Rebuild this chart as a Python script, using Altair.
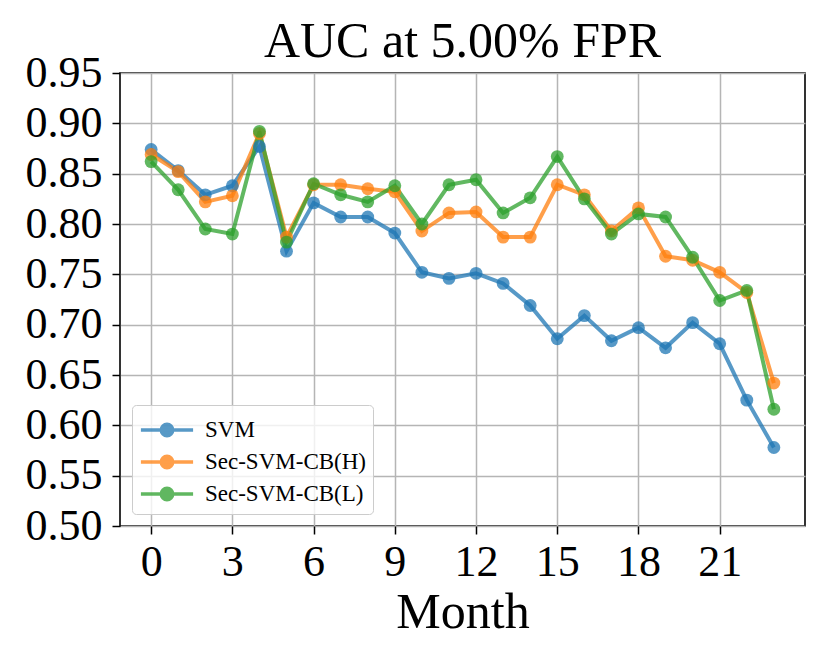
import altair as alt
import pandas as pd

months = list(range(24))
series_names = ["SVM", "Sec-SVM-CB(H)", "Sec-SVM-CB(L)"]
svm = [0.874, 0.853, 0.829, 0.838, 0.877, 0.773, 0.821, 0.807, 0.807, 0.791, 0.752, 0.746,
       0.751, 0.741, 0.719, 0.686, 0.709, 0.684, 0.697, 0.677, 0.702, 0.681, 0.625, 0.578]
sec_h = [0.869, 0.852, 0.822, 0.828, 0.890, 0.787, 0.839, 0.839, 0.835, 0.832, 0.793, 0.811,
         0.812, 0.787, 0.787, 0.839, 0.829, 0.793, 0.816, 0.768, 0.764, 0.752, 0.732, 0.642]
sec_l = [0.862, 0.834, 0.795, 0.790, 0.892, 0.782, 0.840, 0.829, 0.822, 0.838, 0.800, 0.839,
         0.844, 0.811, 0.826, 0.867, 0.825, 0.790, 0.810, 0.807, 0.767, 0.724, 0.734, 0.616]
x_ticks = [0, 3, 6, 9, 12, 15, 18, 21]
y_ticks = [0.50, 0.55, 0.60, 0.65, 0.70, 0.75, 0.80, 0.85, 0.90, 0.95]
colors = ["#1f77b4", "#ff7f0e", "#2ca02c"]

rows = []
for name, vals in zip(series_names, [svm, sec_h, sec_l]):
    for m, v in zip(months, vals):
        rows.append({"Month": m, "AUC": v, "Series": name})
df = pd.DataFrame(rows)

FONT = "Liberation Serif"
legend_symbol = "M-1.65,0L1.65,0M-0.36,0A0.36,0.36,0,1,1,0.36,0A0.36,0.36,0,1,1,-0.36,0Z"

x = alt.X("Month:Q",
          scale=alt.Scale(domain=[-1.15, 24.15], nice=False, zero=False),
          axis=alt.Axis(values=x_ticks, title="Month", format="d"))
y = alt.Y("AUC:Q",
          scale=alt.Scale(domain=[0.5, 0.95], nice=False, zero=False),
          axis=alt.Axis(values=y_ticks, format=".2f", title=None))
color_scale = alt.Scale(domain=series_names, range=colors)
color = alt.Color("Series:N", scale=color_scale,
                  legend=alt.Legend(
                      title=None, orient="bottom-left", offset=12,
                      symbolType=legend_symbol, symbolSize=1000,
                      symbolStrokeWidth=3.5, symbolOpacity=0.75,
                      symbolOffset=10,
                      labelFont=FONT, labelFontSize=23, labelColor="black",
                      labelLimit=400,
                      labelOffset=20, rowPadding=1, padding=7,
                      strokeColor="#cccccc", cornerRadius=4,
                      fillColor="rgba(255,255,255,0.8)"))

base = alt.Chart(df)
lines = base.mark_line(strokeWidth=4, opacity=0.75).encode(
    x=x, y=y, color=color, order="Month:Q")
points = base.mark_circle(size=165, opacity=0.75).encode(
    x=x, y=y, color=color)

chart = alt.layer(lines, points).properties(
    width=685, height=453,
    title=alt.Title("AUC at 5.00% FPR", font=FONT, fontSize=50, fontWeight="normal",
                    color="black", offset=12, frame="group", dy=28),
    autosize=alt.AutoSizeParams(type="none"),
    padding={"left": 112, "top": 65, "right": 17, "bottom": 130},
).configure_view(
    stroke="black", strokeWidth=1.6
).configure_axis(
    labelFont=FONT, labelFontSize=44, labelColor="black",
    titleFont=FONT, titleFontSize=50, titleColor="black", titleFontWeight="normal",
    grid=True, gridColor="#b5b5b5", gridWidth=1.5,
    domain=False, ticks=True, tickColor="black", tickWidth=1.5, tickSize=8,
).configure_axisX(
    labelPadding=6, titlePadding=3, labelFlush=False
).configure_axisY(
    labelPadding=10, labelFlush=False
)

chart.save("out.html", embed_options={"renderer": "svg", "actions": False})
